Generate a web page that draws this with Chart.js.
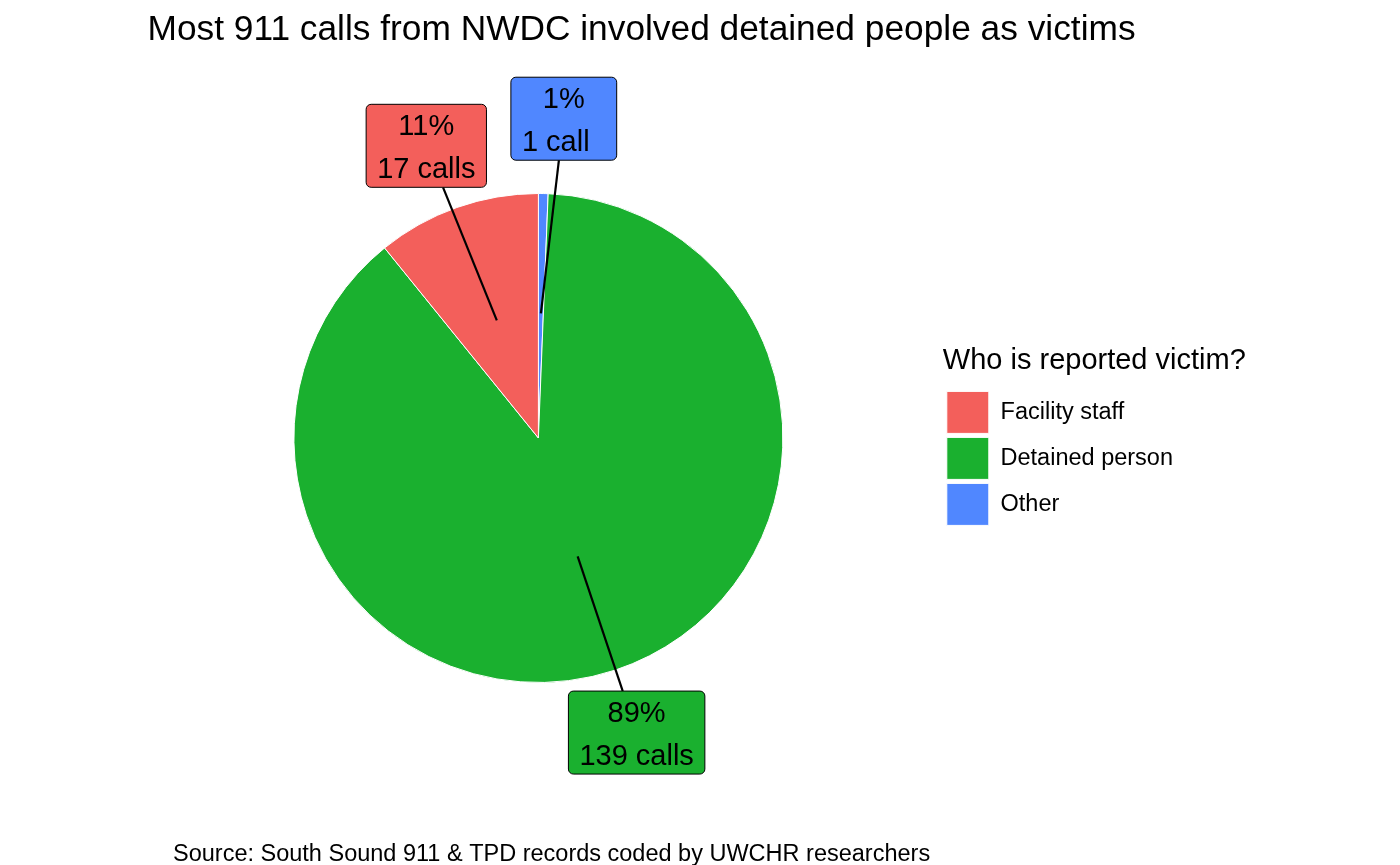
<!DOCTYPE html>
<html>
<head>
<meta charset="utf-8">
<title>911 calls from NWDC</title>
<script src="https://cdn.jsdelivr.net/npm/chart.js@4"></script>
<style>
  html, body { margin: 0; padding: 0; background: #fff; }
  #wrap { width: 1400px; height: 865px; }
</style>
</head>
<body>
<div id="wrap"><canvas id="pie" width="1400" height="865"></canvas></div>
<script>
// slices, clockwise from 12 o'clock
const categories = ['Other', 'Detained person', 'Facility staff'];
const calls = [1, 139, 17];
const sliceColors = ['#5087FF', '#1AB02F', '#F35F5B'];

const titleText = 'Most 911 calls from NWDC involved detained people as victims';
const captionText = 'Source: South Sound 911 & TPD records coded by UWCHR researchers';
const legendTitle = 'Who is reported victim?';

const FONT = "'Liberation Sans', Arial, Helvetica, sans-serif";
const total = calls.reduce((a, b) => a + b, 0);

// where each repelled label sits: distance from centre (in radii) and a small turn off the slice middle (deg)
const labelPlace = [
  { dist: 1.31, turn: 3.4 },
  { dist: 1.27, turn: -0.1 },
  { dist: 1.28, turn: -1.5 }
];

function labelLines(v) {
  const pct = Math.round(v / total * 100) + '%';
  // single call keeps the width of the plural text, like the original
  const n = v === 1 ? v + ' call  ' : v + ' calls';
  return [pct, n];
}

const sliceLabels = {
  id: 'sliceLabels',
  afterDatasetsDraw(chart) {
    const ctx = chart.ctx;
    const arcs = chart.getDatasetMeta(0).data;
    ctx.save();
    ctx.font = '29px ' + FONT;
    const boxes = arcs.map((arc, i) => {
      const p = arc.getProps(['x', 'y', 'startAngle', 'endAngle', 'outerRadius'], true);
      const mid = (p.startAngle + p.endAngle) / 2;
      const ax = p.x + Math.cos(mid) * p.outerRadius * 0.51;
      const ay = p.y + Math.sin(mid) * p.outerRadius * 0.51;
      const a = mid + labelPlace[i].turn * Math.PI / 180;
      const cx = p.x + Math.cos(a) * p.outerRadius * labelPlace[i].dist;
      const cy = p.y + Math.sin(a) * p.outerRadius * labelPlace[i].dist;
      const lines = labelLines(calls[i]);
      const w = Math.max(...lines.map(t => ctx.measureText(t).width)) + 22;
      const h = 83;
      return { ax, ay, cx, cy, w, h, lines, color: sliceColors[i] };
    });

    // leader lines first
    ctx.strokeStyle = '#000';
    ctx.lineWidth = 2.2;
    boxes.forEach(b => {
      const dx = Math.abs(b.cx - b.ax), dy = Math.abs(b.cy - b.ay);
      const k = Math.min(dx ? (b.w / 2) / dx : Infinity, dy ? (b.h / 2) / dy : Infinity);
      const t = 1 - k;
      ctx.beginPath();
      ctx.moveTo(b.ax, b.ay);
      ctx.lineTo(b.ax + t * (b.cx - b.ax), b.ay + t * (b.cy - b.ay));
      ctx.stroke();
    });

    boxes.forEach(b => {
      ctx.beginPath();
      ctx.roundRect(b.cx - b.w / 2, b.cy - b.h / 2, b.w, b.h, 5);
      ctx.fillStyle = b.color;
      ctx.fill();
      ctx.lineWidth = 1;
      ctx.strokeStyle = '#000';
      ctx.stroke();
      ctx.fillStyle = '#000';
      ctx.textAlign = 'center';
      ctx.textBaseline = 'alphabetic';
      ctx.fillText(b.lines[0], b.cx, b.cy - 10.5);
      ctx.fillText(b.lines[1], b.cx, b.cy + 32.5);
    });
    ctx.restore();
  }
};

const chartText = {
  id: 'chartText',
  afterDraw(chart) {
    const ctx = chart.ctx;
    ctx.save();
    ctx.fillStyle = '#000';
    ctx.textBaseline = 'alphabetic';
    ctx.font = '35.3px ' + FONT;
    ctx.textAlign = 'center';
    ctx.fillText(titleText, 641.5, 40);
    ctx.font = '23.5px ' + FONT;
    ctx.textAlign = 'left';
    ctx.fillText(captionText, 173, 861);
    ctx.restore();
  }
};

// legend box only gets the width of its items; give the title room so it is not clipped
const legendRoom = {
  id: 'legendRoom',
  afterLayout(chart) {
    const lg = chart.legend;
    lg.right = chart.width;
    lg.width = lg.right - lg.left;
  }
};

new Chart(document.getElementById('pie'), {
  type: 'pie',
  data: {
    labels: categories,
    datasets: [{
      data: calls,
      backgroundColor: sliceColors,
      borderColor: '#ffffff',
      borderWidth: 1
    }]
  },
  options: {
    responsive: false,
    animation: false,
    layout: { padding: { top: 193, bottom: 182, left: 134, right: 217 } },
    plugins: {
      title: { display: false },
      tooltip: { enabled: false },
      legend: {
        position: 'right',
        reverse: true,
        title: {
          display: true,
          text: legendTitle,
          position: 'start',
          color: '#000',
          font: { family: FONT, size: 29 },
          padding: { top: 0, bottom: 6 }
        },
        labels: {
          boxWidth: 42,
          boxHeight: 42,
          padding: 4,
          color: '#000',
          font: { family: FONT, size: 23.5 }
        }
      }
    }
  },
  plugins: [sliceLabels, chartText, legendRoom]
});
</script>
</body>
</html>
